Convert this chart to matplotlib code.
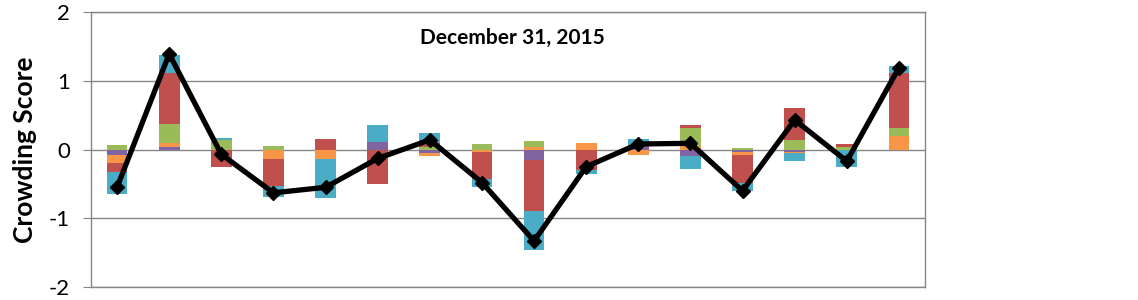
import matplotlib
matplotlib.use("Agg")
import matplotlib.pyplot as plt
import numpy as np

# Data (series in stacking order from zero outward)
categories = list(range(1, 17))
purple = [-0.08, 0.04, 0.00, 0.00, 0.00, 0.11, -0.05, 0.00, -0.15, 0.00, 0.06, -0.09, -0.03, -0.03, 0.00, 0.00]
orange = [-0.12, 0.06, 0.00, -0.145, -0.14, 0.00, -0.05, -0.03, 0.04, 0.10, -0.08, 0.05, -0.05, -0.02, 0.00, 0.20]
green = [0.07, 0.27, 0.14, 0.05, 0.00, 0.00, 0.04, 0.08, 0.08, 0.00, 0.00, 0.27, 0.02, 0.14, 0.04, 0.11]
red = [-0.12, 0.74, -0.26, -0.39, 0.15, -0.50, 0.05, -0.40, -0.74, -0.30, 0.00, 0.03, -0.41, 0.46, 0.04, 0.81]
blue = [-0.32, 0.27, 0.03, -0.155, -0.56, 0.25, 0.15, -0.12, -0.57, -0.06, 0.10, -0.19, -0.12, -0.12, -0.25, 0.09]
score = [-0.55, 1.39, -0.07, -0.63, -0.55, -0.13, 0.14, -0.48, -1.33, -0.25, 0.08, 0.09, -0.60, 0.43, -0.17, 1.19]
yticks = [-2, -1, 0, 1, 2]
title = "December 31, 2015"

series = [purple, orange, green, red, blue]
colors = ["#8064A2", "#F79646", "#9BBB59", "#C0504D", "#4BACC6"]

plt.rcParams['font.family'] = ['Lato', 'DejaVu Sans']
fig = plt.figure(figsize=(11.38, 3.0), dpi=100)
ax = fig.add_axes([91/1138, 13/300, (925-91)/1138, (288-13)/300])

x = np.arange(len(categories))
pos_base = np.zeros(len(x))
neg_base = np.zeros(len(x))
for vals, col in zip(series, colors):
    v = np.array(vals, dtype=float)
    base = np.where(v >= 0, pos_base, neg_base)
    ax.bar(x, v, bottom=base, width=0.4, color=col, linewidth=0, zorder=2)
    pos_base += np.where(v >= 0, v, 0)
    neg_base += np.where(v < 0, v, 0)

ax.plot(x, score, color="black", linewidth=3.8, marker="D", markersize=7, zorder=3)

ax.set_xlim(-0.5, len(x) - 0.5)
ax.set_ylim(-2, 2)
ax.set_yticks(yticks)
ax.set_yticklabels([str(t) for t in yticks], fontsize=16)
ax.set_xticks([])
ax.yaxis.grid(True, color="#868686", linewidth=1.0, zorder=0)
ax.set_axisbelow(True)
for s in ax.spines.values():
    s.set_color("#868686")
    s.set_linewidth(1.0)
ax.tick_params(axis='y', direction='out', length=6, color="#868686", pad=9)
ax.set_ylabel("Crowding Score", fontsize=19, fontweight='bold', labelpad=9)
ax.text(0.505, 0.905, title, transform=ax.transAxes, ha='center', va='center',
        fontsize=15, fontweight='bold')

fig.savefig("out.png", dpi=100)
